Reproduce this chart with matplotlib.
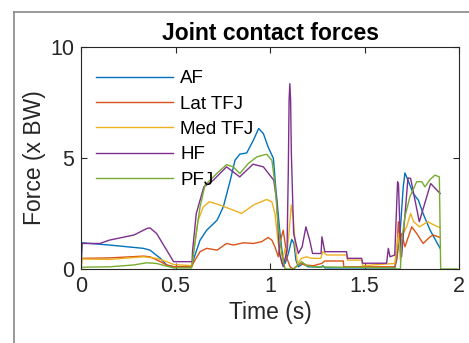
import matplotlib
matplotlib.use('Agg')
import matplotlib.pyplot as plt
from matplotlib.lines import Line2D

plt.rcParams['font.family'] = ['Liberation Sans', 'DejaVu Sans']

# AF
t_af = [0, 0.005, 0.15, 0.33, 0.365, 0.42, 0.453, 0.49, 0.585, 0.59, 0.63, 0.665, 0.72, 0.753, 0.79,
        0.815, 0.84, 0.877, 0.912, 0.94, 0.965, 0.99, 1.018, 1.03, 1.053, 1.067, 1.08, 1.097, 1.115,
        1.127, 1.137, 1.15, 1.176, 1.2, 1.27, 1.28, 1.29, 1.66, 1.67, 1.688, 1.705, 1.714, 1.73,
        1.758, 1.785, 1.81, 1.847, 1.9]
y_af = [0, 1.18, 1.08, 0.93, 0.85, 0.48, 0.18, 0.1, 0.1, 0.3, 1.3, 1.75, 2.2, 2.8, 4.0,
        4.9, 5.17, 5.23, 5.8, 6.33, 6.1, 5.5, 4.98, 3.7, 1.6, 0.55, 0.25, 0.7, 1.33,
        1.15, 0.4, 0.1, 0.25, 0.1, 0.08, 0.15, 0.05, 0.05, 0.4, 1.6, 3.7, 4.33, 4.0,
        3.4, 3.1, 2.5, 1.75, 0.93]

# Lat TFJ
t_lat = [0, 0.005, 0.15, 0.33, 0.365, 0.42, 0.453, 0.49, 0.585, 0.603, 0.63, 0.665, 0.72, 0.77,
         0.806, 0.86, 0.912, 0.956, 0.99, 1.01, 1.026, 1.044, 1.056, 1.07, 1.08, 1.09, 1.106,
         1.123, 1.16, 1.185, 1.23, 1.273, 1.29, 1.388, 1.39, 1.66, 1.67, 1.679, 1.688, 1.697,
         1.714, 1.75, 1.776, 1.81, 1.847, 1.864, 1.9]
y_lat = [0, 0.48, 0.5, 0.58, 0.55, 0.33, 0.18, 0.1, 0.1, 0.4, 0.78, 0.93, 0.85, 1.15,
         1.08, 1.18, 1.15, 1.23, 1.42, 1.3, 1.0, 0.55, 1.3, 1.75, 1.15, 0.48, 0.1,
         0.0, 0.25, 0.18, 0.15, 0.25, 0.36, 0.36, 0.1, 0.1, 0.5, 2.13, 1.3, 1.6,
         1.0, 1.9, 1.6, 1.15, 1.45, 1.53, 1.42]

# Med TFJ
t_med = [0, 0.005, 0.15, 0.33, 0.4, 0.453, 0.49, 0.585, 0.595, 0.62, 0.647, 0.68, 0.735, 0.806,
         0.85, 0.912, 0.982, 1.01, 1.026, 1.044, 1.062, 1.08, 1.09, 1.1, 1.113, 1.123, 1.134,
         1.146, 1.167, 1.194, 1.22, 1.268, 1.28, 1.3, 1.405, 1.41, 1.485, 1.49, 1.66, 1.68,
         1.69, 1.705, 1.723, 1.744, 1.76, 1.79, 1.835, 1.864, 1.9]
y_med = [0, 0.45, 0.43, 0.55, 0.48, 0.33, 0.2, 0.15, 0.7, 2.2, 2.8, 3.03, 2.88, 2.65,
         2.5, 2.88, 3.13, 3.03, 2.5, 1.15, 0.25, 0.93, 0.7, 1.6, 2.88, 2.35, 1.0,
         0.25, 0.48, 0.55, 0.48, 0.48, 0.78, 0.63, 0.63, 0.4, 0.4, 0.15, 0.25, 1.6,
         0.4, 1.6, 1.9, 2.5, 2.13, 1.9, 2.13, 2.0, 1.86]

# HF
t_hf = [0, 0.005, 0.1, 0.15, 0.28, 0.35, 0.365, 0.4, 0.49, 0.588, 0.59, 0.61, 0.65, 0.7, 0.77,
        0.84, 0.91, 0.965, 1.02, 1.035, 1.05, 1.07, 1.09, 1.097, 1.101, 1.105, 1.109, 1.113,
        1.125, 1.15, 1.17, 1.19, 1.21, 1.225, 1.27, 1.275, 1.285, 1.29, 1.405, 1.41, 1.485,
        1.49, 1.617, 1.626, 1.635, 1.66, 1.675, 1.68, 1.688, 1.696, 1.73, 1.744, 1.79, 1.85, 1.9]
y_hf = [0, 1.15, 1.15, 1.3, 1.53, 1.83, 1.85, 1.6, 0.33, 0.33, 0.8, 2.5, 3.7, 4.0, 4.6,
        4.15, 4.72, 4.6, 4.0, 3.1, 0.7, 0.1, 0.85, 4.5, 7.6, 8.35, 7.6, 5.2,
        1.6, 0.7, 1.0, 1.9, 1.3, 0.7, 0.7, 1.45, 1.0, 0.78, 0.78, 0.48, 0.48,
        0.26, 0.26, 0.93, 0.55, 0.63, 3.93, 3.8, 1.6, 0.55, 4.1, 4.08, 2.13, 3.85, 3.4]

# PFJ
t_pfj = [0, 0.153, 0.277, 0.347, 0.4, 0.453, 0.49, 0.585, 0.612, 0.63, 0.656, 0.683, 0.718,
         0.77, 0.806, 0.84, 0.885, 0.93, 0.982, 1.01, 1.026, 1.044, 1.062, 1.08, 1.125, 1.167,
         1.194, 1.23, 1.66, 1.67, 1.69, 1.697, 1.714, 1.74, 1.776, 1.803, 1.82, 1.847, 1.873,
         1.896, 1.903, 1.99]
y_pfj = [0.08, 0.1, 0.18, 0.28, 0.25, 0.13, 0.05, 0.05, 1.75, 2.8, 3.78, 4.0, 4.3,
         4.7, 4.6, 4.3, 4.75, 5.05, 5.17, 4.9, 3.85, 1.9, 0.7, 0.0, 0.0, 0.33,
         0.15, 0.1, 0.05, 0.0, 0.0, 1.3, 2.35, 3.25, 3.93, 3.93, 3.7, 4.03, 4.23,
         4.15, 0.0, 0.0]

series = [('AF', t_af, y_af, '#0072BD'),
          ('Lat TFJ', t_lat, y_lat, '#D95319'),
          ('Med TFJ', t_med, y_med, '#EDB120'),
          ('HF', t_hf, y_hf, '#7E2F8E'),
          ('PFJ', t_pfj, y_pfj, '#77AC30')]

fig = plt.figure(figsize=(4.69, 3.43), dpi=100)
ax = fig.add_axes([81 / 469, 1 - 269 / 343, 378 / 469, 222 / 343])

for name, t, y, c in series:
    ax.plot(t, y, color=c, lw=1.0, label=name)

ax.set_xlim(0, 2)
ax.set_ylim(0, 10)
ax.set_xticks([0, 0.5, 1, 1.5, 2])
ax.set_xticklabels(['0', '0.5', '1', '1.5', '2'])
ax.set_yticks([0, 5, 10])
ax.tick_params(direction='in', top=True, right=True, length=4, width=0.8,
               labelsize=15.5, colors='#262626', pad=5)
for s in ax.spines.values():
    s.set_color('#262626')
    s.set_linewidth(0.8)

ax.set_xlabel('Time (s)', fontsize=16.5, color='#262626', labelpad=3)
ax.set_ylabel('Force (x BW)', fontsize=16.5, color='#262626', labelpad=3)
ax.set_title('Joint contact forces', fontsize=16.5, fontweight='bold', pad=5)

ax.legend(loc='upper left', bbox_to_anchor=(0.02, 0.93), frameon=False, fontsize=13.5,
          handlelength=4.1, handletextpad=0.4, labelspacing=0.44, borderaxespad=0)

# outer gray frame
fig.add_artist(Line2D([14 / 469, 14 / 469], [0, 1 - 12 / 343], color='#888888', lw=1.2))
fig.add_artist(Line2D([14 / 469, 1], [1 - 12 / 343, 1 - 12 / 343], color='#888888', lw=1.2))

fig.savefig('out.png', dpi=100)
